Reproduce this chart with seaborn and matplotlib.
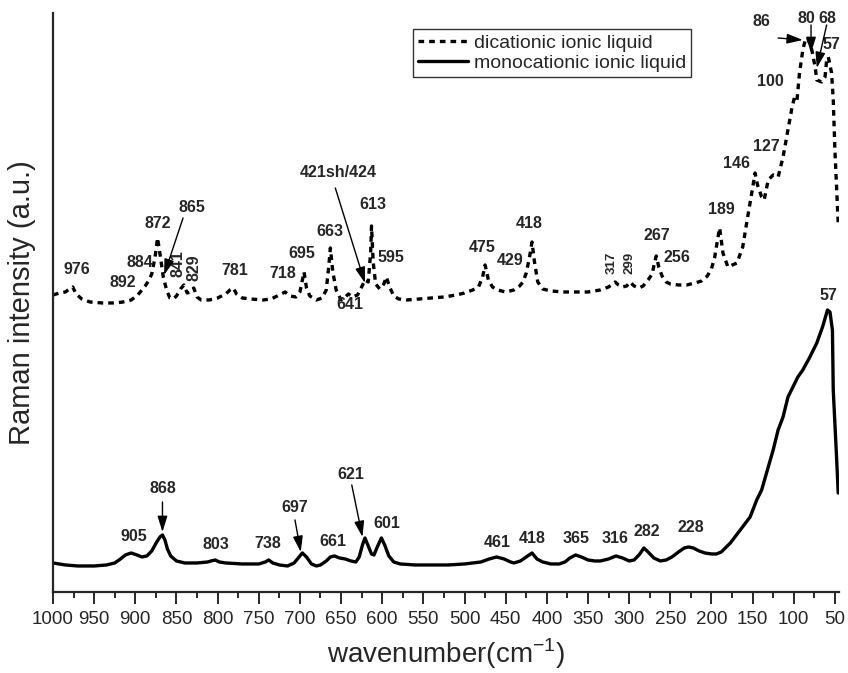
import numpy as np
import pandas as pd
import matplotlib
matplotlib.use("Agg")
import matplotlib.pyplot as plt
import seaborn as sns

# traced spectra (wavenumber in cm-1, intensity in arbitrary units)
dica_wn = [1000, 992, 985, 980, 976, 972, 965, 955, 940, 925, 915, 905, 897, 892, 888, 884, 880, 876, 873, 870,
           866, 862, 858, 854, 850, 845, 841, 837, 833, 829, 825, 820, 810, 800, 790, 785, 781, 777, 770, 760,
           745, 735, 725, 718, 712, 705, 700, 697, 695, 692, 688, 680, 673, 668, 665, 663, 660, 656, 650, 645,
           641, 636, 630, 625, 621, 617, 614, 613, 611, 608, 603, 598, 595, 591, 586, 580, 570, 555, 540, 525,
           510, 500, 490, 483, 478, 475, 471, 466, 460, 450, 440, 433, 429, 425, 421, 418, 415, 411, 405, 395,
           380, 365, 350, 335, 325, 320, 317, 313, 308, 303, 299, 294, 288, 283, 277, 272, 269, 267, 264, 260,
           255, 250, 240, 230, 220, 212, 205, 200, 196, 192, 190, 186, 180, 169, 162, 156, 151, 147, 144, 139,
           136, 131, 125, 119, 113, 107, 102, 99, 96, 93, 89, 86, 83, 78, 74, 72, 66, 62, 60, 58,
           54, 52, 50, 48, 46]
dica_int = [297, 299, 300, 303, 305, 298, 293, 290, 289, 289, 290, 292, 297, 302, 306, 311, 318, 335, 354, 338,
            315, 302, 294, 293, 296, 303, 307, 299, 300, 304, 295, 292, 292, 294, 298, 302, 304, 298, 294, 293,
            292, 293, 297, 300, 296, 295, 300, 312, 320, 304, 296, 292, 294, 302, 325, 344, 320, 302, 292, 295,
            298, 295, 297, 305, 312, 310, 340, 366, 330, 308, 303, 308, 315, 305, 296, 293, 292, 293, 294, 295,
            297, 299, 302, 305, 315, 327, 312, 305, 302, 300, 302, 306, 310, 319, 335, 350, 330, 310, 303, 301,
            300, 300, 300, 302, 305, 308, 310, 307, 305, 306, 310, 306, 304, 306, 312, 318, 330, 336, 325, 316,
            310, 308, 307, 307, 309, 311, 316, 323, 335, 355, 364, 339, 325, 329, 345, 375, 399, 419, 407, 395,
            392, 412, 417, 415, 435, 462, 485, 495, 492, 519, 542, 552, 554, 542, 525, 512, 510, 515, 532, 535,
            519, 492, 442, 405, 369]

mono_wn = [1000, 985, 970, 950, 935, 925, 918, 912, 905, 898, 892, 886, 880, 874, 870, 867, 864, 861, 857, 850,
           840, 825, 812, 808, 803, 798, 790, 770, 750, 742, 738, 733, 725, 715, 707, 701, 697, 692, 686, 680,
           675, 668, 663, 658, 652, 645, 638, 632, 628, 624, 621, 618, 613, 610, 606, 601, 597, 592, 586, 578,
           560, 540, 520, 500, 490, 480, 470, 461, 452, 444, 440, 432, 425, 418, 412, 405, 395, 385, 378, 372,
           365, 358, 350, 342, 335, 325, 316, 308, 300, 294, 288, 282, 277, 270, 262, 255, 248, 240, 233, 228,
           222, 215, 208, 200, 194, 188, 177, 165, 153, 145, 139, 131, 125, 119, 113, 107, 101, 95, 89, 81,
           72, 65, 59, 56, 53, 52, 48, 46]
mono_int = [29, 27, 26, 26, 27, 29, 33, 37, 39, 37, 35, 36, 41, 50, 55, 57, 52, 43, 36, 31,
            29, 29, 30, 31, 32, 30, 29, 28, 28, 30, 32, 29, 27, 26, 29, 35, 39, 35, 28, 26,
            27, 31, 35, 36, 34, 33, 31, 30, 35, 47, 54, 48, 38, 37, 45, 54, 47, 36, 30, 28,
            27, 27, 27, 28, 29, 30, 33, 35, 33, 30, 29, 31, 35, 39, 33, 30, 28, 28, 30, 34,
            37, 35, 32, 31, 31, 33, 36, 34, 31, 32, 37, 44, 40, 34, 31, 32, 35, 40, 44, 45,
            44, 41, 39, 38, 38, 40, 49, 62, 75, 92, 102, 125, 142, 162, 175, 195, 205, 215, 222, 234,
            249, 265, 282, 280, 262, 202, 135, 99]

# peak labels: text, x, y
dica_labels = [("976", 971, 322), ("892", 915, 309), ("884", 895, 329), ("872", 873, 368),
               ("865", 831, 384), ("781", 779, 321), ("718", 721, 318), ("695", 698, 338),
               ("663", 664, 360), ("421sh/424", 654, 419), ("613", 611, 387), ("595", 590, 334),
               ("641", 639, 287), ("475", 478, 344), ("429", 445, 331), ("418", 421, 368),
               ("267", 266, 356), ("256", 242, 334), ("189", 188, 382), ("146", 170, 428),
               ("127", 133, 445), ("100", 128, 510), ("86", 139, 570), ("80", 85, 573),
               ("68", 59, 573), ("57", 54, 547)]
dica_rot_labels = [("841", 848, 328, 11.5), ("829", 829, 324, 11.5), ("317", 321, 329, 9.5), ("299", 300, 329, 9.5)]
mono_labels = [("905", 902, 55), ("868", 867, 103), ("803", 802, 47), ("738", 739, 48),
               ("697", 706, 84), ("661", 660, 50), ("621", 638, 117), ("601", 594, 68),
               ("461", 460, 49), ("418", 418, 53), ("365", 365, 53), ("316", 317, 53),
               ("282", 278, 60), ("228", 225, 64), ("57", 58, 296)]
# arrows: (start, end)
arrows = [((842, 374), (865, 317)), ((657, 404), (621, 309)), ((119, 554), (89, 552)),
          ((79, 567), (79, 539)), ((60, 567), (72, 524)),
          ((867, 90), (867, 60)), ((706, 72), (699, 40)), ((637, 107), (624, 55))]

xticks = list(range(1000, 49, -50))

sns.set_style("ticks")
plt.rcParams['font.family'] = ['Liberation Sans', 'DejaVu Sans']
plt.rcParams['mathtext.fontset'] = 'custom'
plt.rcParams['mathtext.rm'] = 'Liberation Sans'
plt.rcParams['axes.unicode_minus'] = False

df_d = pd.DataFrame({"wn": dica_wn, "I": dica_int})
df_m = pd.DataFrame({"wn": mono_wn, "I": mono_int})

fig = plt.figure(figsize=(8.48, 6.73), dpi=100)
ax = fig.add_axes([0.0625, 0.1204, 0.9269, 0.8603])

sns.lineplot(data=df_d, x="wn", y="I", ax=ax, color="black", lw=2.4,
             linestyle=(0, (1.7, 1.5)), label="dicationic ionic liquid", sort=False)
sns.lineplot(data=df_m, x="wn", y="I", ax=ax, color="black", lw=2.4,
             label="monocationic ionic liquid", sort=False)

ax.set_xlim(1000, 45)
ax.set_ylim(0, 579)
ax.set_xticks(xticks)
ax.set_xticks([x - 25 for x in xticks[:-1]], minor=True)
ax.set_yticks([])
ax.tick_params(axis='x', which='major', length=8.5, width=1.4, labelsize=13.5, pad=5, direction='out')
ax.tick_params(axis='x', which='minor', length=4, width=1.4, direction='out')
sns.despine(ax=ax)
for s in ["left", "bottom"]:
    ax.spines[s].set_linewidth(1.6)

ax.set_xlabel("wavenumber(cm$^{\\mathregular{-1}}$)", fontsize=20, labelpad=6)
ax.set_ylabel("Raman intensity (a.u.)", fontsize=21, labelpad=12)

for t, x, y in dica_labels + mono_labels:
    ax.text(x, y, t, ha="center", va="center", fontsize=11.5, fontweight="bold")
for t, x, y, fs in dica_rot_labels:
    ax.text(x, y, t, ha="center", va="center", fontsize=fs, fontweight="bold", rotation=90)
for (x0, y0), (x1, y1) in arrows:
    ax.annotate("", xy=(x1, y1), xytext=(x0, y0),
                arrowprops=dict(arrowstyle="-|>,head_length=0.8,head_width=0.25", color="black",
                                lw=1, mutation_scale=12, shrinkA=0, shrinkB=0))

leg = ax.legend(loc="upper left", bbox_to_anchor=(0.458, 0.972), fontsize=14, frameon=True,
                fancybox=False, edgecolor="black", handlelength=2.6, handletextpad=0.3,
                borderpad=0.25, labelspacing=0.15, borderaxespad=0)
leg.get_frame().set_linewidth(1)

fig.savefig("out.png", dpi=100)
